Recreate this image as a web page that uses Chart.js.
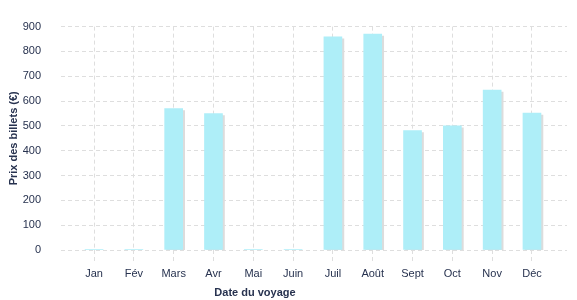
<!DOCTYPE html>
<html lang="fr">
<head>
<meta charset="utf-8">
<script src="https://cdn.jsdelivr.net/npm/chart.js@4/dist/chart.umd.min.js"></script>
<style>
    html, body { margin: 0; padding: 0; background: #fff; }
    #wrap { width: 577px; height: 300px; }
</style>
</head>
<body>
<div id="wrap"><canvas id="priceChart"></canvas></div>
<script>
// Chart data
const months = ['Jan', 'Fév', 'Mars', 'Avr', 'Mai', 'Juin', 'Juil', 'Août', 'Sept', 'Oct', 'Nov', 'Déc'];
const prices = [3, 3, 570, 550, 3, 3, 859, 870, 481, 500, 644, 552];
const yTicks = [0, 100, 200, 300, 400, 500, 600, 700, 800, 900];

const textColor = '#27324f';
const gridColor = '#dedede';
const fontFamily = '"Liberation Sans", Arial, Helvetica, sans-serif';

// Draw a light shadow behind the bars
const barShadow = {
    id: 'barShadow',
    beforeDatasetsDraw(chart) {
        const ctx = chart.ctx;
        ctx.save();
        ctx.shadowColor = '#dcdcdc';
        ctx.shadowOffsetX = 2;
        ctx.shadowOffsetY = 2;
        ctx.shadowBlur = 0;
    },
    afterDatasetsDraw(chart) {
        chart.ctx.restore();
    }
};

// X axis title sits left of centre in the reference
const xTitle = {
    id: 'xTitle',
    afterDraw(chart) {
        const ctx = chart.ctx;
        ctx.save();
        ctx.font = 'bold 11px ' + fontFamily;
        ctx.fillStyle = textColor;
        ctx.textAlign = 'center';
        ctx.textBaseline = 'middle';
        ctx.fillText('Date du voyage', 255, 293);
        ctx.restore();
    }
};

const ctx = document.getElementById('priceChart').getContext('2d');

new Chart(ctx, {
    type: 'bar',
    data: {
        datasets: [{
            label: 'Prix des billets (€)',
            data: months.map((m, i) => ({ x: i, y: prices[i] })),
            backgroundColor: '#aeeef8',
            borderWidth: 0,
            barThickness: 18
        }]
    },
    options: {
        responsive: true,
        maintainAspectRatio: false,
        animation: false,
        layout: {
            padding: { top: 7, right: 10, bottom: 0, left: 0 }
        },
        scales: {
            x: {
                type: 'linear',
                offset: false,
                min: -0.83,
                max: 11.88,
                afterBuildTicks: axis => {
                    axis.ticks = months.map((m, i) => ({ value: i }));
                },
                afterFit: scale => { scale.height = 50; },
                grid: {
                    offset: false,
                    color: gridColor,
                    tickColor: gridColor,
                    tickLength: 12,
                    tickBorderDash: [4, 3],
                    drawTicks: true
                },
                border: { display: false, dash: [4, 3] },
                ticks: {
                    autoSkip: false,
                    maxRotation: 0,
                    padding: 5,
                    color: textColor,
                    font: { family: fontFamily, size: 11 },
                    callback: value => months[value]
                }
            },
            y: {
                min: 0,
                max: 900,
                afterBuildTicks: axis => {
                    axis.ticks = yTicks.map(v => ({ value: v }));
                },
                afterFit: scale => { scale.width = 61; },
                border: { display: false, dash: [4, 3] },
                grid: {
                    color: gridColor,
                    drawTicks: false
                },
                ticks: {
                    padding: 20,
                    color: textColor,
                    font: { family: fontFamily, size: 11 }
                },
                title: {
                    display: true,
                    text: 'Prix des billets (€)',
                    color: textColor,
                    font: { family: fontFamily, size: 11, weight: 'bold' },
                    padding: { top: 7, bottom: 0 }
                }
            }
        },
        plugins: {
            legend: { display: false },
            tooltip: { enabled: false }
        }
    },
    plugins: [barShadow, xTitle]
});
</script>
</body>
</html>
